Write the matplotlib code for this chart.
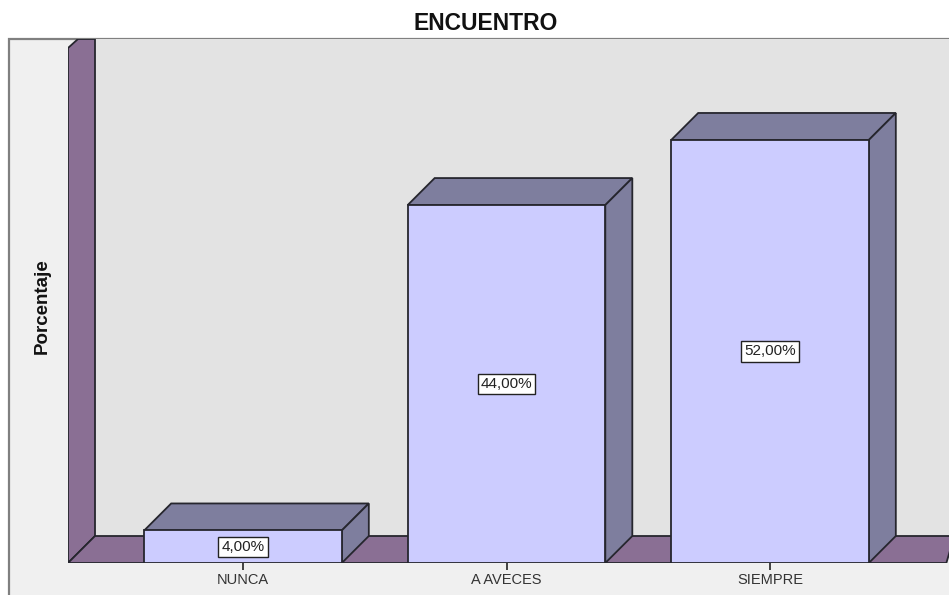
import matplotlib
matplotlib.use("Agg")
import matplotlib.pyplot as plt
from matplotlib.patches import Polygon, Rectangle

categories = ["NUNCA", "A AVECES", "SIEMPRE"]
values = [4.0, 44.0, 52.0]
value_labels = ["4,00%", "44,00%", "52,00%"]

W, H = 949, 595
FRONT = "#ccccff"
SIDE = "#7e7e9e"
PURPLE = "#8a6f94"
WALL = "#e3e3e3"
PANEL = "#f0f0f0"
EDGE = "#26262e"

# how the axes sit on the picture, in pixels
LEFT_PX, RIGHT_PX, TOP_PX, BASE_PX = 68, 949, 39, 563
PX_PER_CAT = 263.5
PX_PER_PCT = 8.135
FIRST_CAT_PX = 243
DEPTH_PX = 27

plt.rcParams["font.family"] = ["Liberation Sans", "DejaVu Sans"]

fig = plt.figure(figsize=(W / 100, H / 100), dpi=100, facecolor="white")

# grey panel behind the whole chart
fig.patches.append(Rectangle((9 / W, -0.01), (W - 9 + 20) / W, (H - 39) / H + 0.01, transform=fig.transFigure,
                             facecolor=PANEL, edgecolor="#808080", linewidth=1.6, zorder=-1))

ax = fig.add_axes([LEFT_PX / W, (H - BASE_PX) / H, (RIGHT_PX - LEFT_PX) / W, (BASE_PX - TOP_PX) / H])
ax.set_xlim((LEFT_PX - FIRST_CAT_PX) / PX_PER_CAT, (RIGHT_PX - FIRST_CAT_PX) / PX_PER_CAT)
ax.set_ylim(0, (BASE_PX - TOP_PX) / PX_PER_PCT)
ax.patch.set_visible(False)
for s in ax.spines.values():
    s.set_visible(False)

x0, x1 = ax.get_xlim()
y1 = ax.get_ylim()[1]
dx = DEPTH_PX / PX_PER_CAT
dy = DEPTH_PX / PX_PER_PCT
notch_x = 10 / PX_PER_CAT
notch_y = 9 / PX_PER_PCT

# back wall, side wall and floor
ax.add_patch(Polygon([(x0 + dx, dy), (x1, dy), (x1, y1), (x0 + dx, y1)], facecolor=WALL, edgecolor="none", zorder=1))
ax.add_patch(Polygon([(x0, 0), (x0 + dx, dy), (x0 + dx, y1), (x0 + notch_x, y1), (x0, y1 - notch_y)],
                     facecolor=PURPLE, edgecolor=EDGE, linewidth=1.3, zorder=2))
ax.add_patch(Polygon([(x0, 0), (x0 + dx, dy), (x1 + 0.02, dy), (x1 - 0.01, 0)], facecolor=PURPLE, edgecolor=EDGE,
                     linewidth=1.3, zorder=2))

bar_w = 0.75
for i, v in enumerate(values):
    l, r = i - bar_w / 2, i + bar_w / 2
    # top and right faces, then the front
    ax.add_patch(Polygon([(l, v), (l + dx, v + dy), (r + dx, v + dy), (r, v)], facecolor=SIDE, edgecolor=EDGE,
                         linewidth=1.3, zorder=3))
    ax.add_patch(Polygon([(r, 0), (r + dx, dy), (r + dx, v + dy), (r, v)], facecolor=SIDE, edgecolor=EDGE,
                         linewidth=1.3, zorder=3))
ax.bar(range(len(values)), values, width=bar_w, color=FRONT, edgecolor=EDGE, linewidth=1.3, zorder=4)

for i, v in enumerate(values):
    ax.text(i, v / 2, value_labels[i], ha="center", va="center", fontsize=11, color="#222222", zorder=5,
            bbox=dict(boxstyle="square,pad=0.2", facecolor="white", edgecolor="#222222", linewidth=1))

ax.set_xticks(range(len(categories)), categories)
ax.set_yticks([])
ax.tick_params(axis="x", length=5, width=1.3, color="#333333", labelsize=10.5, labelcolor="#333333", pad=2)

fig.text(485.5 / W, 1 - 24 / H, "ENCUENTRO", ha="center", va="center", fontsize=16.5, fontweight="bold", color="#111111")
fig.text(42 / W, 1 - 306 / H, "Porcentaje", rotation=90, ha="center", va="center", fontsize=13.5,
         fontweight="bold", color="#111111")

fig.savefig("out.png", dpi=100)
